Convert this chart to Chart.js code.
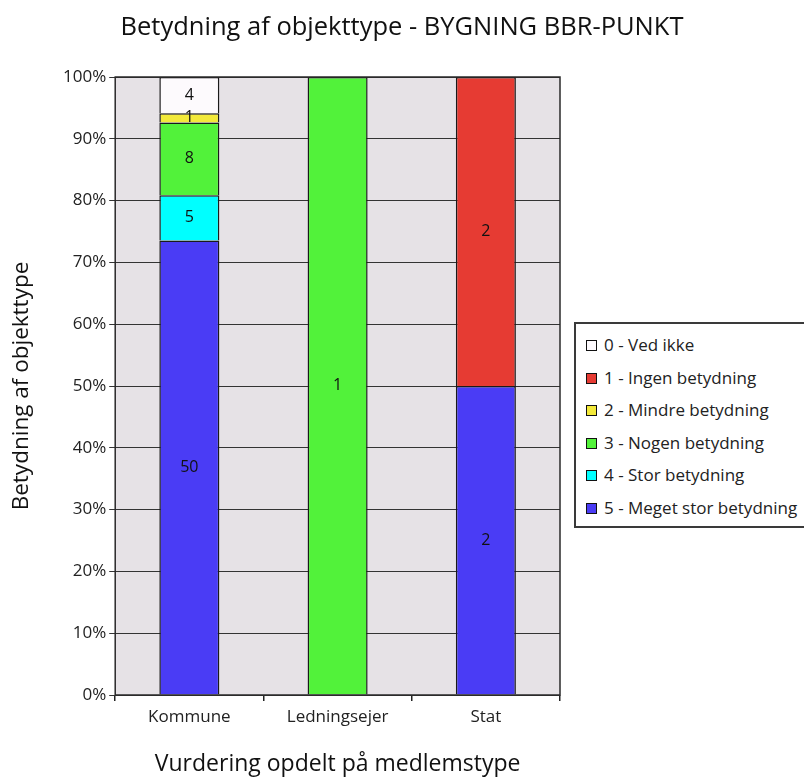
<!DOCTYPE html>
<html>
<head>
<meta charset="utf-8">
<script src="https://cdn.jsdelivr.net/npm/chart.js@4/dist/chart.umd.min.js"></script>
<style>
  body { margin: 0; background: #fff; }
  #wrap { position: relative; width: 804px; height: 778px; overflow: hidden; }
  #legend { position: absolute; left: 574px; top: 322px; width: 240px; height: 202px;
            border: 2px solid #3a3a3a; background: #fff; font-family: "Open Sans", sans-serif;
            font-size: 17px; color: #222; }
  .item { position: absolute; left: 10px; height: 20px; line-height: 20px; white-space: nowrap; }
  .box { display: inline-block; width: 9px; height: 9px; border: 1.5px solid #111; margin-right: 7px; vertical-align: 0px; }
</style>
</head>
<body>
<div id="wrap">
  <canvas id="chart" width="804" height="778"></canvas>
  <div id="legend"></div>
</div>
<script>
// data (counts per answer, per member type)
const categories = ['Kommune', 'Ledningsejer', 'Stat'];
const answerLabels = ['5 - Meget stor betydning', '4 - Stor betydning', '3 - Nogen betydning',
                      '2 - Mindre betydning', '1 - Ingen betydning', '0 - Ved ikke'];
const answer5 = [50, 0, 2];
const answer4 = [5, 0, 0];
const answer3 = [8, 1, 0];
const answer2 = [1, 0, 0];
const answer1 = [0, 0, 2];
const answer0 = [4, 0, 0];
const colors = ['#4a3cf5', '#00ffff', '#52f23a', '#f3e93a', '#e63b33', '#fdfafd'];
const yTicks = [0, 10, 20, 30, 40, 50, 60, 70, 80, 90, 100];
const title = 'Betydning af objekttype - BYGNING BBR-PUNKT';

const counts = [answer5, answer4, answer3, answer2, answer1, answer0];
const font = '"Open Sans", sans-serif';

// totals per category, used to turn counts into percent
let totals = categories.map((c, i) => counts.reduce((s, arr) => s + arr[i], 0));

let datasets = counts.map((arr, k) => ({
    label: answerLabels[k],
    data: arr.map((v, i) => v / totals[i] * 100),
    counts: arr,
    backgroundColor: colors[k],
    borderColor: '#1a1a1a',
    borderWidth: 1.5,
    barPercentage: 0.405,
    categoryPercentage: 1
}));

// grey plot background + frame
const plotBg = {
    id: 'plotBg',
    beforeDraw(chart) {
        const a = chart.chartArea, ctx = chart.ctx;
        ctx.save();
        ctx.fillStyle = '#e6e2e6';
        ctx.fillRect(a.left, a.top, a.right - a.left, a.bottom - a.top);
        ctx.restore();
    },
    afterDatasetsDraw(chart) {
        const a = chart.chartArea, ctx = chart.ctx;
        ctx.save();
        ctx.strokeStyle = '#2a2a2a';
        ctx.lineWidth = 1.5;
        ctx.strokeRect(a.left, a.top, a.right - a.left, a.bottom - a.top);
        ctx.restore();
    }
};

// count labels in the middle of each segment
const countLabels = {
    id: 'countLabels',
    afterDatasetsDraw(chart) {
        const ctx = chart.ctx;
        ctx.save();
        ctx.font = '16px ' + font;
        ctx.fillStyle = '#111';
        ctx.textAlign = 'center';
        ctx.textBaseline = 'middle';
        chart.data.datasets.forEach((ds, k) => {
            chart.getDatasetMeta(k).data.forEach((el, i) => {
                if (ds.counts[i] > 0) {
                    ctx.fillText(ds.counts[i], el.x, (el.y + el.base) / 2);
                }
            });
        });
        ctx.restore();
    }
};

// title centred on the whole canvas (the built-in one follows the padding)
const topTitle = {
    id: 'topTitle',
    afterDraw(chart) {
        const ctx = chart.ctx;
        ctx.save();
        ctx.font = '25.5px ' + font;
        ctx.fillStyle = '#111';
        ctx.textAlign = 'center';
        ctx.textBaseline = 'middle';
        ctx.fillText(title, chart.width / 2, 28);
        ctx.restore();
    }
};

const myChart = new Chart(document.getElementById('chart'), {
    type: 'bar',
    data: { labels: categories, datasets: datasets },
    plugins: [plotBg, countLabels, topTitle],
    options: {
        responsive: false,
        animation: false,
        layout: { padding: { top: 77, right: 244, bottom: 0, left: 8 } },
        plugins: {
            legend: { display: false },
            tooltip: { enabled: false },
            title: { display: false }
        },
        scales: {
            x: {
                stacked: true,
                grid: { offset: true, drawOnChartArea: false, drawTicks: true, tickLength: 6, color: '#222', lineWidth: 1.5 },
                border: { display: false },
                ticks: { color: '#222', font: { family: font, size: 17 }, padding: 6 },
                title: {
                    display: true, text: 'Vurdering opdelt på medlemstype', color: '#111',
                    font: { family: font, size: 23 }, padding: { top: 17, bottom: 0 }
                }
            },
            y: {
                stacked: true,
                min: 0, max: 100,
                afterBuildTicks(axis) { axis.ticks = yTicks.map(v => ({ value: v })); },
                grid: { color: '#333', lineWidth: 1, tickLength: 6 },
                border: { display: false },
                ticks: {
                    color: '#222', font: { family: font, size: 17 }, padding: 3,
                    callback: v => v + '%'
                },
                title: {
                    display: true, text: 'Betydning af objekttype', color: '#111',
                    font: { family: font, size: 22.5 }, padding: { top: 0, bottom: 25 }
                }
            }
        }
    }
});

// legend box: 0 at the top, 5 at the bottom
let html = '';
for (let k = answerLabels.length - 1, row = 0; k >= 0; k--, row++) {
    html += `<div class="item" style="top:${11 + row * 32.6}px"><span class="box" style="background:${colors[k]}"></span>${answerLabels[k]}</div>`;
}
document.getElementById('legend').innerHTML = html;
</script>
</body>
</html>
